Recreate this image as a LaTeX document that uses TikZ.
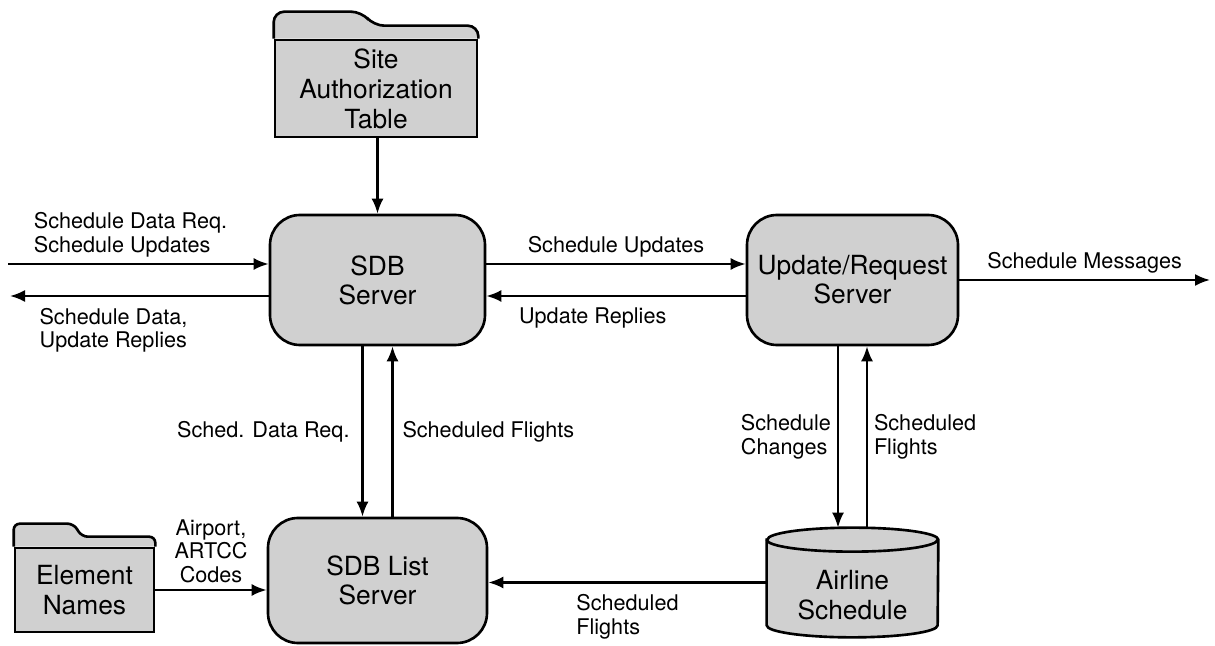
\documentclass[tikz,border=0pt]{standalone}
\usepackage{fontspec}
\setmainfont{TeX Gyre Heros}
\usetikzlibrary{arrows.meta, positioning, backgrounds}
\definecolor{boxgray}{HTML}{D0D0D0}

\tikzset{
  server/.style={draw, fill=boxgray, line width=1.5pt, rounded corners=0.6cm,
    minimum width=4.3cm, minimum height=2.6cm, align=center,
    font=\fontsize{15}{16.5}\selectfont},
  store/.style={draw, fill=boxgray, line width=1.5pt, align=center,
    font=\fontsize{15}{17}\selectfont},
  tabline/.style={draw, fill=boxgray, line width=1.5pt, rounded corners=#1},
  tabline/.default=6pt,
  flow/.style={line width=1.3pt, -{Latex[length=3mm, width=2.4mm]}},
  flowtext/.style={font=\fontsize{12.3}{13.5}\selectfont, align=left}
}

\begin{document}
\begin{tikzpicture}
  \useasboundingbox (0,0) rectangle (24.3,12.9);

  % servers
  \node[server] (sdb) at (7.55,7.3) {SDB\\Server};
  \node[server, minimum width=4.22cm] (upd) at (17.05,7.3) {Update/Request\\Server};
  \node[server, minimum width=4.38cm, minimum height=2.5cm] (list) at (7.55,1.29) {SDB List\\Server};

  % data stores
  \node[store, minimum width=4.04cm, minimum height=1.94cm] (site) at (7.52,11.13) {Site\\Authorization\\Table};
  \node[store, minimum width=2.78cm, minimum height=1.68cm] (elem) at (1.69,1.1) {Element\\Names};
  \node[minimum width=3.42cm, minimum height=2.18cm, font=\fontsize{15}{17}\selectfont] (air) at (17.05,1.25)
    {\raisebox{-0.45cm}[0pt][0pt]{\begin{tabular}{@{}c@{}}Airline\\Schedule\end{tabular}}};

  \begin{scope}[on background layer]
    % folder tabs
    \path[tabline] (site.north west) -- ++(0,0.54) -- ++(1.76,0) -- ++(0.24,-0.28)
      -- ([yshift=0.26cm]site.north east) -- (site.north east);
    \path[tabline=3.5pt] (elem.north west) -- ++(0,0.46) -- ++(1.2,0) -- ++(0.16,-0.26)
      -- ([yshift=0.2cm]elem.north east) -- (elem.north east);
    % cylinder
    \draw[line width=1.5pt, fill=boxgray] ([yshift=-0.24cm]air.north west)
      -- ([yshift=0.24cm]air.south west)
      arc[start angle=180, end angle=360, x radius=1.71cm, y radius=0.24cm]
      -- ([yshift=-0.24cm]air.north east)
      arc[start angle=0, end angle=180, x radius=1.71cm, y radius=0.24cm] -- cycle;
    \draw[line width=1.5pt] ([yshift=-0.24cm]air.north west)
      arc[start angle=180, end angle=360, x radius=1.71cm, y radius=0.24cm];
  \end{scope}

  % outside ends
  \coordinate (inL) at (0.16,7.62);
  \coordinate (outL) at (0.2,6.98);
  \coordinate (msg) at (24.2,7.3);

  % flows
  \draw[flow] (sdb.north |- site.south) -- (sdb.north);
  \draw[flow] (inL) -- (inL -| sdb.west)
    node[pos=0.47, above, flowtext] {Schedule Data Req.\\Schedule Updates};
  \draw[flow] (outL -| sdb.west) -- (outL)
    node[pos=0.6, below, yshift=-0.1cm, flowtext] {Schedule Data,\\Update Replies};
  \draw[flow] ([yshift=0.32cm]sdb.east) -- ([yshift=0.32cm]upd.west)
    node[midway, above, flowtext] {Schedule Updates};
  \draw[flow] ([yshift=-0.32cm]upd.west) -- ([yshift=-0.32cm]sdb.east)
    node[pos=0.59, below, yshift=-0.1cm, flowtext] {Update Replies};
  \draw[flow] (upd.east) -- (msg)
    node[midway, above, flowtext] {Schedule Messages};

  \draw[flow] ([xshift=-0.3cm]sdb.south) -- ([xshift=-0.3cm]list.north)
    node[midway, left, xshift=-0.12cm, flowtext] {Sched. Data Req.};
  \draw[flow] ([xshift=0.3cm]list.north) -- ([xshift=0.3cm]sdb.south)
    node[midway, right, xshift=0.06cm, flowtext] {Scheduled Flights};

  \draw[flow] ([xshift=-0.29cm]upd.south) -- ([xshift=-0.29cm]air.north)
    node[midway, left, flowtext] {Schedule\\Changes};
  \draw[flow] ([xshift=0.29cm]air.north) -- ([xshift=0.29cm]upd.south)
    node[midway, right, flowtext] {Scheduled\\Flights};

  \draw[flow] (air.west) -- (air.west -| list.east)
    node[midway, below, yshift=-0.1cm, flowtext] {Scheduled\\Flights};
  \draw[flow] (elem.east) -- (elem.east -| list.west)
    node[midway, above, flowtext, align=center] {Airport,\\ARTCC\\Codes};
\end{tikzpicture}
\end{document}
